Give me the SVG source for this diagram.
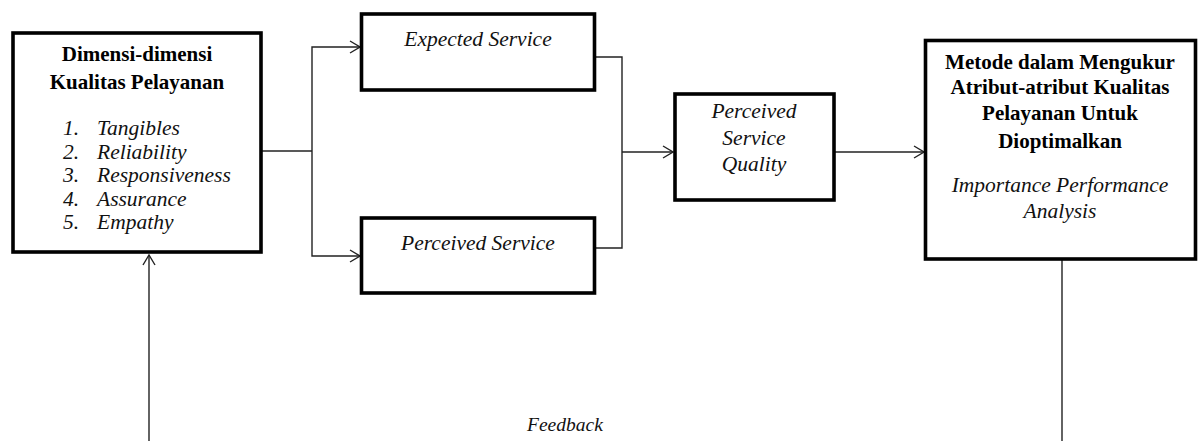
<svg xmlns="http://www.w3.org/2000/svg" width="1202" height="441" viewBox="0 0 1202 441">
  <style>
    .box { fill: #ffffff; stroke: #000000; stroke-width: 3.6; }
    .wire { fill: none; stroke: #222222; stroke-width: 1.4; }
    .title { font-family: "Liberation Serif", "Times New Roman", serif; font-weight: bold; font-size: 21px; fill: #000000; text-anchor: middle; }
    .ital { font-family: "Liberation Serif", "Times New Roman", serif; font-style: italic; font-size: 21.5px; fill: #111111; }
    .mid { text-anchor: middle; }
  </style>
  <defs>
    <marker id="open" viewBox="0 0 12 14" refX="11" refY="7" markerWidth="12" markerHeight="14" markerUnits="userSpaceOnUse" orient="auto">
      <path d="M1,1 L11,7 L1,13" fill="none" stroke="#222222" stroke-width="1.4"/>
    </marker>
  </defs>

  <rect width="1202" height="441" fill="#ffffff"/>

  <!-- connectors -->
  <g id="connectors">
    <path class="wire" d="M262,151 H312"/>
    <path class="wire" d="M312,151 V47 H360" marker-end="url(#open)"/>
    <path class="wire" d="M312,151 V256 H360" marker-end="url(#open)"/>
    <path class="wire" d="M596,57 H622 V248 H596"/>
    <path class="wire" d="M622,152 H673" marker-end="url(#open)"/>
    <path class="wire" d="M835,152 H924" marker-end="url(#open)"/>
    <path class="wire" d="M1062,260 V441"/>
    <path class="wire" d="M149,441 V255" marker-end="url(#open)"/>
  </g>

  <!-- service quality dimensions -->
  <g id="dimensions">
    <rect class="box" x="13" y="33" width="248" height="219"/>
    <text class="title" x="137" y="61">Dimensi-dimensi</text>
    <text class="title" x="137" y="89">Kualitas Pelayanan</text>
    <g class="ital">
      <text x="63" y="135">1.</text><text x="97" y="135">Tangibles</text>
      <text x="63" y="159">2.</text><text x="97" y="159">Reliability</text>
      <text x="63" y="182">3.</text><text x="97" y="182">Responsiveness</text>
      <text x="63" y="206">4.</text><text x="97" y="206">Assurance</text>
      <text x="63" y="229">5.</text><text x="97" y="229">Empathy</text>
    </g>
  </g>

  <g id="expected">
    <rect class="box" x="361.5" y="14" width="233" height="76"/>
    <text class="ital mid" x="478" y="46">Expected Service</text>
  </g>

  <g id="perceived">
    <rect class="box" x="361.5" y="218" width="233" height="75"/>
    <text class="ital mid" x="478" y="250">Perceived Service</text>
  </g>

  <g id="psq">
    <rect class="box" x="675" y="94" width="159" height="106"/>
    <text class="ital mid" x="754" y="118">Perceived</text>
    <text class="ital mid" x="754" y="145">Service</text>
    <text class="ital mid" x="754" y="171">Quality</text>
  </g>

  <g id="method">
    <rect class="box" x="925.5" y="40.5" width="270" height="218.5"/>
    <text class="title" x="1060" y="69">Metode dalam Mengukur</text>
    <text class="title" x="1060" y="94">Atribut-atribut Kualitas</text>
    <text class="title" x="1060" y="120">Pelayanan Untuk</text>
    <text class="title" x="1060" y="148">Dioptimalkan</text>
    <text class="ital mid" x="1060" y="192">Importance Performance</text>
    <text class="ital mid" x="1060" y="218">Analysis</text>
  </g>

  <g id="feedback">
    <text class="ital" x="527" y="431" style="font-size:19.5px">Feedback</text>
  </g>
</svg>
